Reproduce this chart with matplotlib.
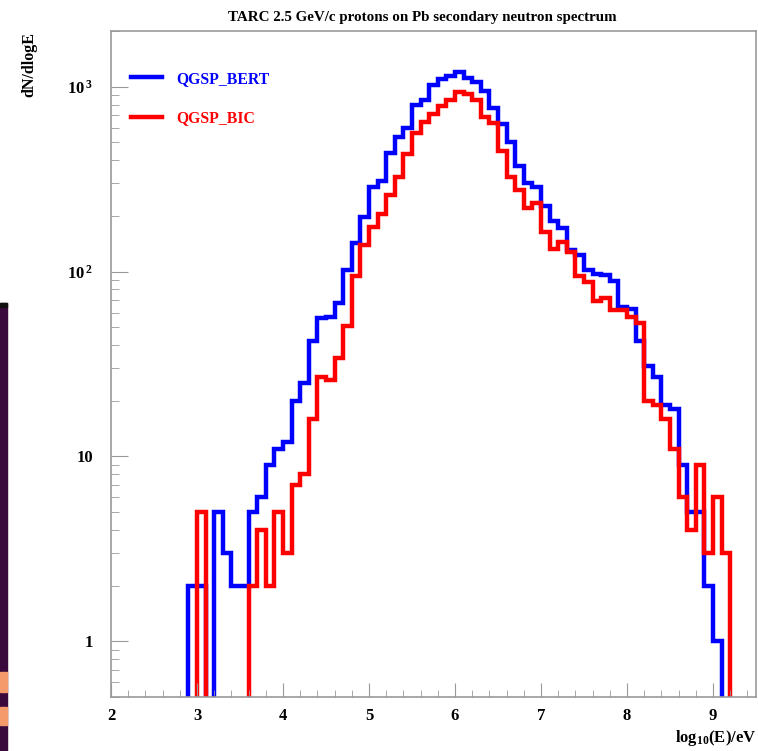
import numpy as np
import matplotlib
matplotlib.use("Agg")
import matplotlib.pyplot as plt
from matplotlib.ticker import LogLocator, MultipleLocator, NullFormatter, FuncFormatter
from matplotlib.patches import Rectangle

plt.rcParams["font.family"] = ["Liberation Serif", "DejaVu Serif"]
plt.rcParams["font.weight"] = "bold"
plt.rcParams["mathtext.fontset"] = "custom"
plt.rcParams["mathtext.rm"] = "Liberation Serif:bold"
plt.rcParams["mathtext.it"] = "Liberation Serif:bold"
plt.rcParams["mathtext.bf"] = "Liberation Serif:bold"

# histogram bins: log10(E/eV), width 0.1, first bin starts at 2.9
bin_lo = 2.9
bin_w = 0.1
# counts per bin (2.9 ... 9.1)
bert = [2, 2, 0, 5, 3, 2, 2, 5, 6, 9, 11,
        12, 20, 25, 42, 56, 57, 68, 102, 143, 198,
        285, 310, 437, 531, 597, 798, 849, 1024, 1103, 1135,
        1194, 1113, 1055, 942, 771, 627, 505, 370, 303, 288,
        225, 188, 172, 131, 123, 102, 97, 96, 89, 64,
        63, 42, 31, 27, 19, 18, 9, 5, 5, 2,
        1, 0]
bic = [0, 5, 0, 0, 0, 0, 0, 2, 4, 2, 5,
       3, 7, 8, 16, 27, 26, 34, 51, 95, 139,
       175, 205, 260, 326, 431, 561, 640, 711, 788, 849,
       930, 912, 849, 684, 635, 451, 326, 277, 220, 234,
       164, 132, 145, 128, 95, 88, 69, 72, 62, 62,
       57, 53, 20, 19, 16, 11, 6, 4, 9, 3,
       6, 3]
labels = ["QGSP_BERT", "QGSP_BIC"]
colors = ["#0000ff", "#ff0000"]

edges = bin_lo + bin_w * np.arange(len(bert) + 1)

fig = plt.figure(figsize=(7.58, 7.51), dpi=100)
ax = fig.add_axes([111 / 758, 54 / 751, 645 / 758, 666 / 751])

for vals, lab, col in zip([bert, bic], labels, colors):
    v = np.array(vals, dtype=float)
    v[v <= 0] = 1e-3  # empty bins drop to the floor like ROOT
    ax.stairs(v, edges, baseline=1e-3, color=col, lw=3.2, label=lab)

ax.set_yscale("log")
ax.set_xlim(2, 9.5)
ax.set_ylim(0.5, 2000)

gray = "#999999"
for s in ax.spines.values():
    s.set_color(gray)
    s.set_linewidth(1.2)

ax.xaxis.set_major_locator(MultipleLocator(1))
ax.xaxis.set_minor_locator(MultipleLocator(0.2))
ax.yaxis.set_major_locator(LogLocator(base=10, numticks=10))
ax.yaxis.set_minor_locator(LogLocator(base=10, subs=np.arange(2, 10), numticks=20))
ax.yaxis.set_minor_formatter(NullFormatter())


def ylab(y, pos):
    e = int(round(np.log10(y)))
    if e == 0:
        return "1"
    if e == 1:
        return "10"
    return r"10$^{\,%d}$" % e


ax.yaxis.set_major_formatter(FuncFormatter(ylab))
ax.xaxis.set_major_formatter(FuncFormatter(lambda x, p: "%d" % x))

ax.tick_params(which="both", direction="in", color=gray, top=False, right=False)
ax.tick_params(axis="x", which="major", length=10, pad=8, labelsize=12)
ax.tick_params(axis="x", which="minor", length=5)
ax.tick_params(axis="y", which="major", length=12, pad=13, labelsize=12)
ax.tick_params(axis="y", which="minor", length=6)

leg = ax.legend(loc="upper left", bbox_to_anchor=(0.031, 0.94), frameon=False,
                borderaxespad=0, borderpad=0, handlelength=1.95, handletextpad=0.95,
                labelspacing=1.5, prop={"family": "Liberation Serif", "weight": "bold", "size": 11.3})
for t, col in zip(leg.get_texts(), colors):
    t.set_color(col)

fig.text(422 / 758, 1 - 17 / 751, "TARC 2.5 GeV/c protons on Pb secondary neutron spectrum",
         ha="center", va="center", fontsize=10.8, fontweight="bold")
fig.text(29 / 758, 1 - 32 / 751, "dN/dlogE", rotation=90, ha="center", va="top",
         fontsize=11.5, fontweight="bold")
fig.text(756 / 758, 1 - 738 / 751, r"log$_{10}$(E)/eV", ha="right", va="center",
         fontsize=12, fontweight="bold")

# screenshot remnants on the left edge
fig.patches.append(Rectangle((0, 0), 7 / 758, 1 - 303 / 751, transform=fig.transFigure,
                             color="#3a0a3c", zorder=-1))
fig.patches.append(Rectangle((0, 1 - 307 / 751), 7 / 758, 4 / 751, transform=fig.transFigure,
                             color="#111111", zorder=-1))
for y0, y1 in [(672, 692), (707, 725)]:
    fig.patches.append(Rectangle((0, 1 - y1 / 751), 7 / 758, (y1 - y0) / 751,
                                 transform=fig.transFigure, color="#f59a6a", zorder=0))

fig.savefig("out.png", dpi=100)
